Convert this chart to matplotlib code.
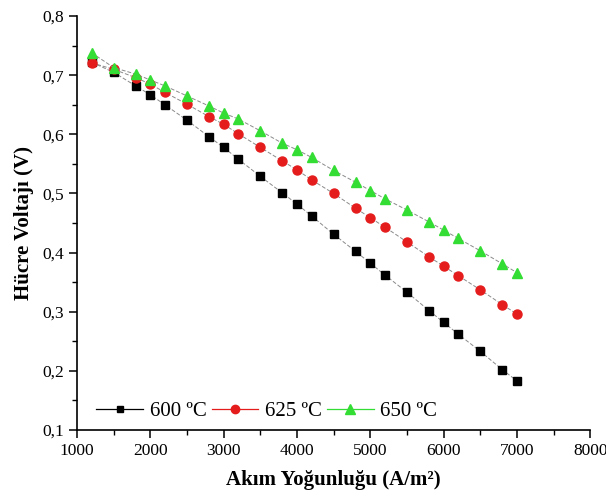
import matplotlib
matplotlib.use("Agg")
import matplotlib.pyplot as plt
from matplotlib.lines import Line2D
from matplotlib.ticker import MultipleLocator, FuncFormatter

# current density (A/m^2)
akim = [1200, 1500, 1800, 2000, 2200, 2500, 2800, 3000, 3200, 3500, 3800, 4000,
        4200, 4500, 4800, 5000, 5200, 5500, 5800, 6000, 6200, 6500, 6800, 7000]

v600 = [0.722, 0.705, 0.682, 0.667, 0.650, 0.624, 0.596, 0.578, 0.558, 0.529, 0.501, 0.482,
        0.462, 0.431, 0.402, 0.382, 0.362, 0.333, 0.302, 0.282, 0.262, 0.233, 0.202, 0.183]
v625 = [0.721, 0.710, 0.696, 0.685, 0.671, 0.651, 0.630, 0.617, 0.601, 0.578, 0.555, 0.540,
        0.523, 0.500, 0.475, 0.459, 0.443, 0.418, 0.393, 0.377, 0.361, 0.337, 0.312, 0.296]
v650 = [0.738, 0.713, 0.702, 0.692, 0.682, 0.665, 0.648, 0.636, 0.626, 0.606, 0.585, 0.574,
        0.561, 0.539, 0.519, 0.505, 0.491, 0.472, 0.452, 0.438, 0.424, 0.403, 0.381, 0.366]

labels = ["600 ºC", "625 ºC", "650 ºC"]
colors = ['black', '#e51c1c', '#33dd33']
markers = ['s', 'o', '^']
msizes = [5.5, 6.5, 7.5]

plt.rcParams['font.family'] = ['Liberation Serif', 'DejaVu Serif']

fig = plt.figure(figsize=(6.06, 5.04), dpi=100)
ax = fig.add_axes([0.127, 0.147, 0.847, 0.821])

handles = []
for ys, c, m, ms, lab in zip([v600, v625, v650], colors, markers, msizes, labels):
    ax.plot(akim, ys, color='#8a8a8a', lw=0.7, ls=(0, (4, 2)),
            marker=m, markersize=ms, markerfacecolor=c, markeredgecolor=c)
    handles.append(Line2D([], [], color=c, lw=0.9, marker=m, markersize=ms - 0.5,
                          markerfacecolor=c, markeredgecolor=c, label=lab))

ax.set_xlim(1000, 8000)
ax.set_ylim(0.1, 0.8)
ax.xaxis.set_major_locator(MultipleLocator(1000))
ax.xaxis.set_minor_locator(MultipleLocator(500))
ax.yaxis.set_major_locator(MultipleLocator(0.1))
ax.yaxis.set_minor_locator(MultipleLocator(0.05))
ax.yaxis.set_major_formatter(FuncFormatter(lambda v, p: f"{v:.1f}".replace('.', ',')))

for s in ['top', 'right']:
    ax.spines[s].set_visible(False)
for s in ['left', 'bottom']:
    ax.spines[s].set_linewidth(1.2)
ax.tick_params(which='major', direction='out', length=6, width=1.1, labelsize=12.5)
ax.tick_params(which='minor', direction='out', length=3.5, width=1.0)

ax.set_xlabel("Akım Yoğunluğu (A/m²)", fontsize=15, fontweight='bold', labelpad=8)
ax.set_ylabel("Hücre Voltajı (V)", fontsize=15, fontweight='bold', labelpad=6)

ax.legend(handles=handles, loc='center left', bbox_to_anchor=(0.038, 0.044),
          ncol=3, frameon=False, fontsize=15, handlelength=2.25,
          columnspacing=0.25, handletextpad=0.3, borderaxespad=0, borderpad=0)

fig.savefig("out.png", dpi=100)
